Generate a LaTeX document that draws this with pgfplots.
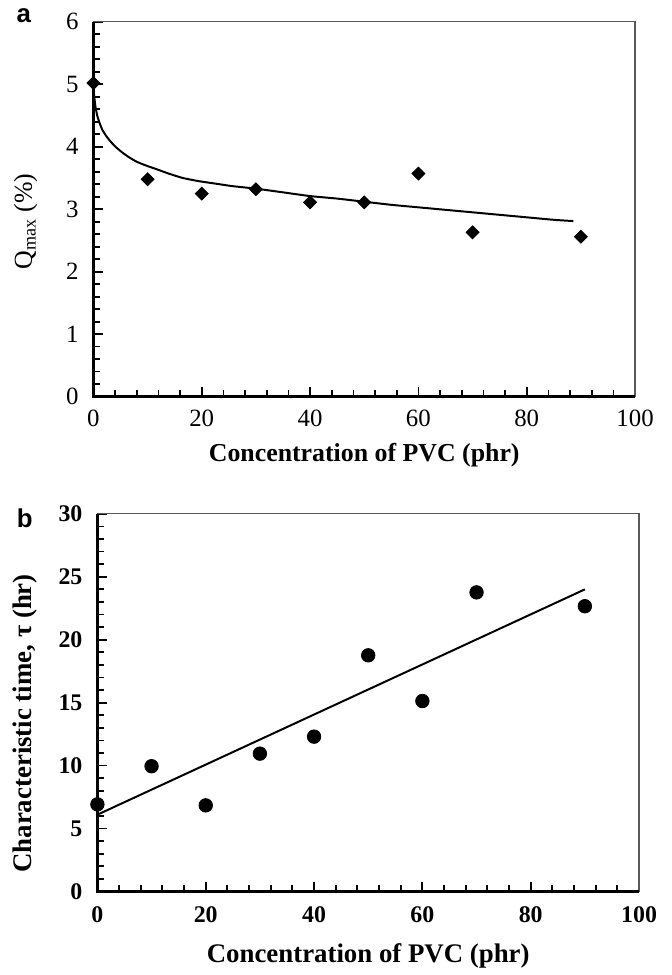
\documentclass[border=0pt]{standalone}
\usepackage{fontspec}
\setmainfont{Liberation Serif}
\newfontfamily\panelfont{Liberation Sans}
\usepackage{pgfplots}
\pgfplotsset{compat=1.18}

\pgfplotsset{
  panel/.style={
    scale only axis, width=272.5pt,
    xmin=0, xmax=100, xtick={0,20,...,100}, minor x tick num=4,
    tick align=inside, xtick pos=left, ytick pos=left,
    major tick length=5pt, minor tick length=3.5pt,
    tick style={black, line width=0.9pt},
    axis line style={black!65, line width=0.6pt},
    /pgf/number format/assume math mode=true,
    clip=false,
  }
}

\begin{document}
\begin{tikzpicture}
\path (-47pt,11pt) rectangle (291pt,-476.5pt);

% panel a
\begin{axis}[panel, name=A,
    at={(0pt,0pt)}, anchor=north west, height=188.5pt,
    ymin=0, ymax=6, ytick={0,...,6}, minor y tick num=4,
    ticklabel style={font=\fontsize{12.5}{14}\selectfont},
    xticklabel style={yshift=-3pt},
    yticklabel style={xshift=-4pt},
    xlabel={\bfseries Concentration of PVC (phr)},
    ylabel={Q\textsubscript{max} (\%)},
    xlabel style={at={(axis description cs:0.5,0)}, anchor=center, yshift=-29.5pt, font=\fontsize{13}{15}\selectfont},
    ylabel style={at={(axis description cs:-0.125,0.467)}, anchor=center, font=\fontsize{13}{15}\selectfont},
]
\addplot[black, line width=1pt, smooth, tension=0.3] coordinates {
 (0,5.02)(0.1,4.85)(0.37,4.65)(0.7,4.5)(1.1,4.39)(1.6,4.28)(2.3,4.18)(3.2,4.08)
 (4.2,3.99)(5.3,3.91)(6.6,3.83)(8,3.76)(9.7,3.70)(12,3.63)(13.9,3.57)(16.5,3.50)
 (19.4,3.45)(22.5,3.41)(25.6,3.37)(29.9,3.33)(35,3.27)(40,3.21)(45,3.17)(50,3.12)
 (55,3.07)(60,3.03)(65,2.99)(70,2.95)(75,2.91)(80,2.87)(85,2.83)(88.6,2.81)};
\addplot[only marks, mark=square*, mark size=2.3pt, mark options={rotate=45, black}] coordinates {
 (0,5.02)(10,3.48)(20,3.25)(30,3.32)(40,3.11)(50,3.11)(60,3.57)(70,2.63)(90,2.56)};
\draw[black, line width=1.3pt] (rel axis cs:0,1) -- (rel axis cs:0,0) -- (rel axis cs:1,0);
\end{axis}

% panel b
\begin{axis}[panel, name=B,
    at={(2pt,-247.5pt)}, anchor=north west, height=190pt,
    ymin=0, ymax=30, ytick={0,5,...,30}, minor y tick num=4,
    ticklabel style={font=\fontsize{12}{14}\selectfont\bfseries},
    xticklabel style={yshift=-4pt},
    yticklabel style={xshift=-4pt},
    xlabel={\bfseries Concentration of PVC (phr)},
    ylabel={\bfseries Characteristic time, τ (hr)},
    xlabel style={at={(axis description cs:0.5,0)}, anchor=center, yshift=-32.5pt, font=\fontsize{13.5}{15}\selectfont},
    ylabel style={at={(axis description cs:-0.134,0.445)}, anchor=center, font=\fontsize{13.5}{15}\selectfont},
]
\addplot[black, line width=1pt] coordinates {(0,6.1)(90,24.0)};
\addplot[only marks, mark=*, mark size=3.4pt, mark options={black}] coordinates {
 (0,6.92)(10,9.95)(20,6.84)(30,10.95)(40,12.3)(50,18.76)(60,15.13)(70,23.76)(90,22.66)};
\draw[black, line width=1.3pt] (rel axis cs:0,1) -- (rel axis cs:0,0) -- (rel axis cs:1,0);
\end{axis}

\node[font=\panelfont\bfseries\fontsize{13}{15}\selectfont] at ([xshift=-35pt,yshift=3pt]A.north west) {a};
\node[font=\panelfont\bfseries\fontsize{13}{15}\selectfont] at ([xshift=-36.5pt,yshift=-2pt]B.north west) {b};
\end{tikzpicture}
\end{document}
